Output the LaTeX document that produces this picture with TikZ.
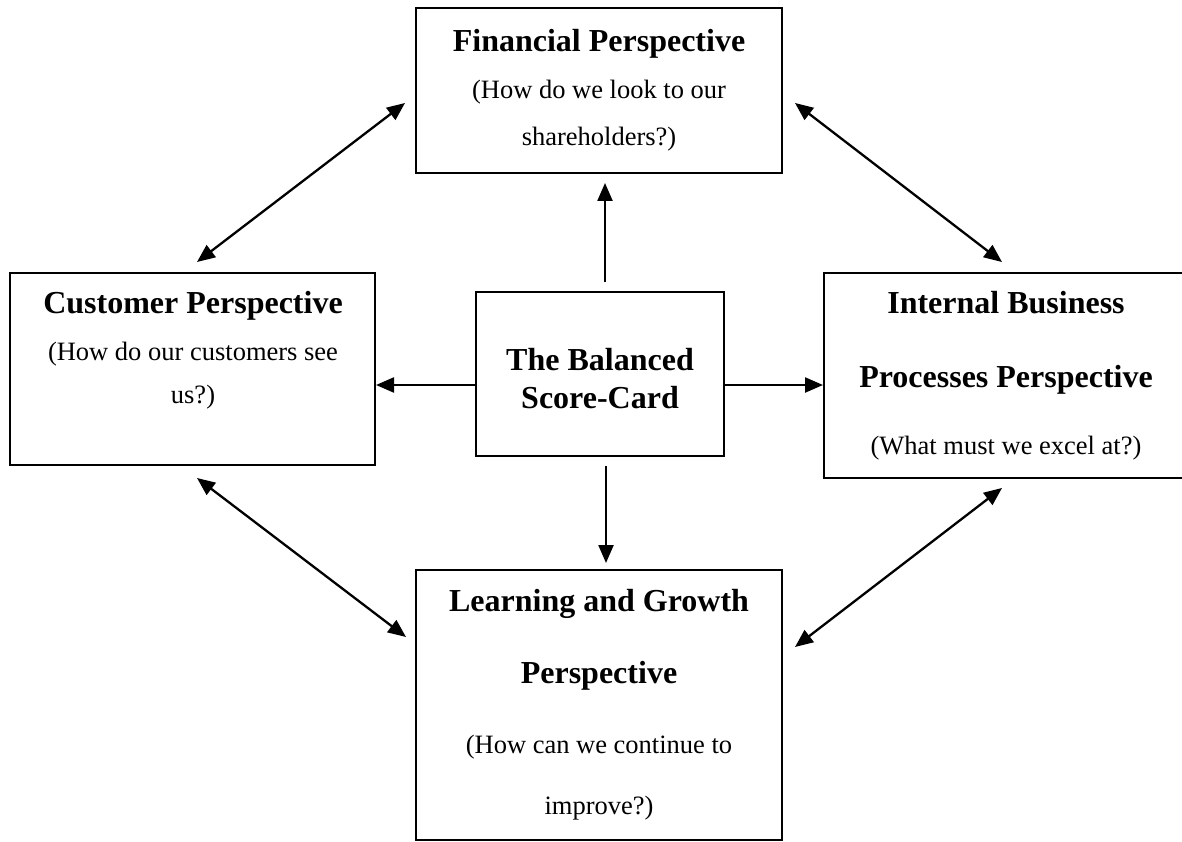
\documentclass[tikz,border=0pt]{standalone}
\usepackage{fontspec}
\setmainfont{Liberation Serif}
\usetikzlibrary{arrows.meta}
\begin{document}
\begin{tikzpicture}[x=1pt,y=-1pt,
  box/.style={draw, line width=2pt, rectangle, inner sep=0pt},
  head/.style={font=\fontsize{32}{38}\selectfont\bfseries, anchor=base, inner sep=0pt},
  sub/.style={font=\fontsize{26.5}{32}\selectfont, anchor=base, inner sep=0pt},
  link/.style={line width=2.3pt, -{Triangle[length=18pt,width=15pt]}},
  both/.style={line width=2.3pt, {Triangle[length=18pt,width=15pt]}-{Triangle[length=18pt,width=15pt]}}]

% canvas
\useasboundingbox (0,0) rectangle (1182,842);
\fill[white] (0,0) rectangle (1182,842);
\clip (0,0) rectangle (1182,842);

% the five boxes
\node[box, minimum width=366pt, minimum height=165pt] (fin)   at (599,90.5) {};
\node[box, minimum width=365pt, minimum height=192pt] (cust)  at (192.5,369) {};
\node[box, minimum width=248pt, minimum height=164pt] (bsc)   at (600,374) {};
\node[box, minimum width=364pt, minimum height=205pt] (intp)  at (1006,375.5) {};
\node[box, minimum width=366pt, minimum height=270pt] (learn) at (599,705) {};

% texts
\node[head] (finT)  at (599,52)  {Financial Perspective};
\node[sub]  (finA)  at (599,99)  {(How do we look to our};
\node[sub]  (finB)  at (599,146) {shareholders?)};

\node[head] (custT) at (193,313) {Customer Perspective};
\node[sub]  (custA) at (193,360) {(How do our customers see};
\node[sub]  (custB) at (193,403) {us?)};

\node[head] (bscA)  at (600,370) {The Balanced};
\node[head] (bscB)  at (600,408) {Score-Card};

\node[head] (intT)  at (1006,313) {Internal Business};
\node[head] (intA)  at (1006,387) {Processes Perspective};
\node[sub]  (intB)  at (1006,454) {(What must we excel at?)};

\node[head] (lrnT)  at (599,611) {Learning and Growth};
\node[head] (lrnA)  at (599,683) {Perspective};
\node[sub]  (lrnB)  at (599,753) {(How can we continue to};
\node[sub]  (lrnC)  at (599,814) {improve?)};

% arrows out of the scorecard
\draw[link] ([xshift=5pt,yshift=9pt]bsc.north) -- ([xshift=6pt,yshift=-9pt]fin.south);
\draw[link] ([xshift=6pt,yshift=-9pt]bsc.south) -- ([xshift=7pt,yshift=6pt]learn.north);
\draw[link] ([yshift=-11pt]bsc.west) -- ([yshift=-16pt]cust.east);
\draw[link] ([yshift=-11pt]bsc.east) -- ([yshift=-9.5pt]intp.west);

% ends of the two-headed arrows
\coordinate (fc1) at (405,103);
\coordinate (fc2) at (197,262);
\coordinate (fi1) at (795,103);
\coordinate (fi2) at (1002,262);
\coordinate (cl1) at (197,478);
\coordinate (cl2) at (406,637);
\coordinate (il1) at (1002,488);
\coordinate (il2) at (795,647);

\draw[both] (fc1) -- (fc2);
\draw[both] (fi1) -- (fi2);
\draw[both] (cl1) -- (cl2);
\draw[both] (il1) -- (il2);
\end{tikzpicture}
\end{document}
